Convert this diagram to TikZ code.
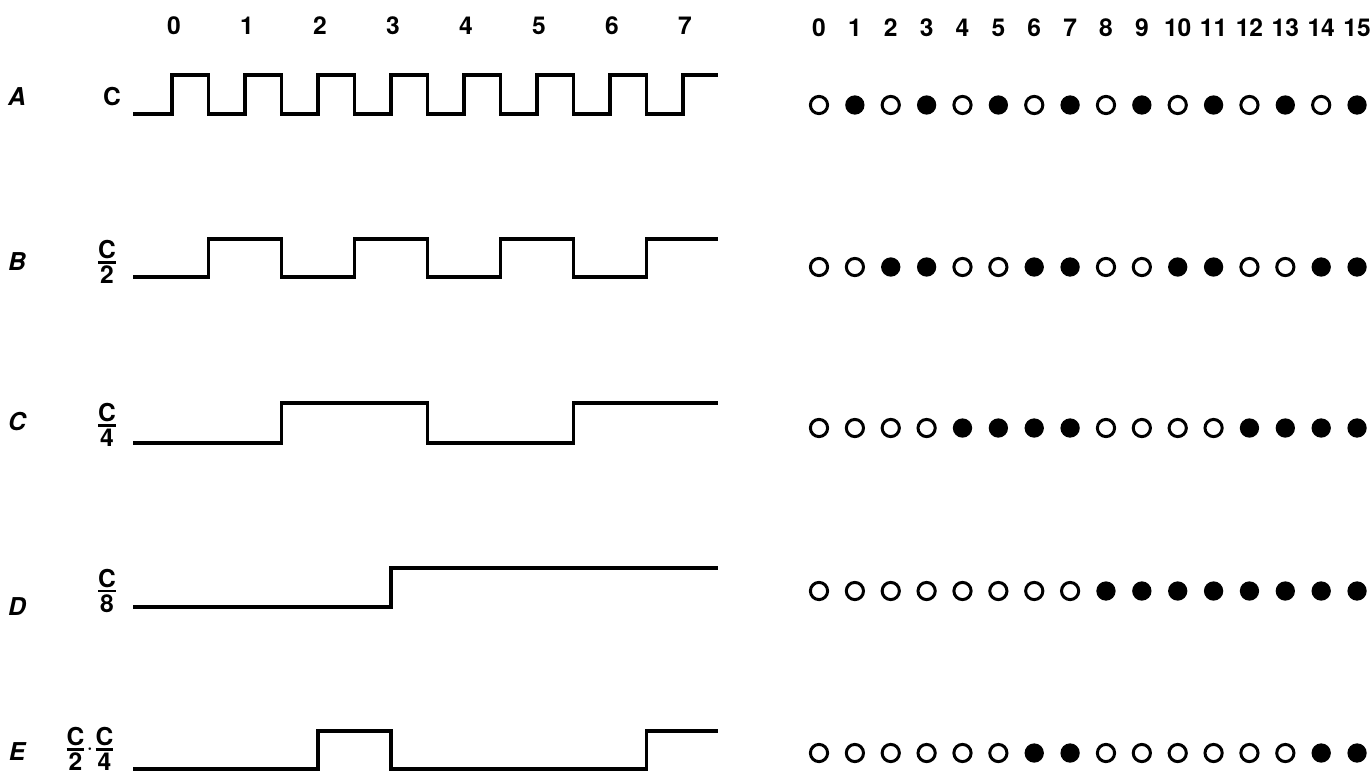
\documentclass[tikz,border=0pt]{standalone}
\usepackage{fontspec}
\setmainfont{TeX Gyre Heros}

\newcommand{\frc}[2]{${\mbox{#1}\above1.3pt\mbox{#2}}$}

\tikzset{
  lbl/.style ={font=\fontsize{14}{16}\selectfont\bfseries, inner sep=0pt},
  signame/.style={lbl, font=\fontsize{14}{16}\selectfont\bfseries\itshape},
  wave/.style={line width=2.2pt, line join=miter},
  bit0/.style={circle, draw=black, line width=1.7pt, minimum size=9.8pt, inner sep=0pt},
  bit1/.style={circle, fill=black, minimum size=11pt, inner sep=0pt},
}

\begin{document}
\begin{tikzpicture}[x=0.02cm, y=-0.02cm]
  \useasboundingbox (0,0) rectangle (1371,775);
  % time marks over the waveforms and the dot columns
  \foreach \k in {0,...,7}
    \node[lbl] (t\k) at ({174+73*\k}, 26) {\k};
  \foreach \k in {0,...,15}
    \node[lbl] (n\k) at ({819+35.87*\k}, 28) {\k};

  \node[signame] (rA) at (17, 97) {A};
  \node[signame] (rB) at (17, 262) {B};
  \node[signame] (rC) at (17, 422) {C};
  \node[signame] (rD) at (17, 607) {D};
  \node[signame] (rE) at (17, 752) {E};

  \node[lbl] (sA) at (112, 97) {C};
  \node[lbl] (sB) at (107, 262) {\frc{C}{2}};
  \node[lbl] (sC) at (107, 425) {\frc{C}{4}};
  \node[lbl] (sD) at (107, 591) {\frc{C}{8}};
  \node[lbl] (sE) at (90, 749) {\frc{C}{2}$\cdot$\frc{C}{4}};

  \draw[wave] (133,114) -| (172,75) -| (208.5,114) -| (245,75) -| (281.5,114)
    -| (318,75) -| (354.5,114) -| (391,75) -| (427.5,114) -| (464,75)
    -| (500.5,114) -| (537,75) -| (573.5,114) -| (610,75) -| (646.5,114)
    -| (683,75) -- (718,75);
  \draw[wave] (133,277) -| (208.5,239) -| (281.5,277) -| (354.5,239)
    -| (427.5,277) -| (500.5,239) -| (573.5,277) -| (646.5,239) -- (718,239);
  \draw[wave] (133,443) -| (281.5,403) -| (427.5,443) -| (573.5,403) -- (718,403);
  \draw[wave] (133,607) -| (391,568) -- (718,568);
  \draw[wave] (133,769) -| (318,731) -| (391,769) -| (646.5,731) -- (718,731);

  \foreach \b [count=\k from 0] in {0,1,0,1,0,1,0,1,0,1,0,1,0,1,0,1}
    \node[bit\b] (a\k) at ({819+35.87*\k}, 105) {};
  \foreach \b [count=\k from 0] in {0,0,1,1,0,0,1,1,0,0,1,1,0,0,1,1}
    \node[bit\b] (b\k) at ({819+35.87*\k}, 267) {};
  \foreach \b [count=\k from 0] in {0,0,0,0,1,1,1,1,0,0,0,0,1,1,1,1}
    \node[bit\b] (c\k) at ({819+35.87*\k}, 428) {};
  \foreach \b [count=\k from 0] in {0,0,0,0,0,0,0,0,1,1,1,1,1,1,1,1}
    \node[bit\b] (d\k) at ({819+35.87*\k}, 591) {};
  \foreach \b [count=\k from 0] in {0,0,0,0,0,0,1,1,0,0,0,0,0,0,1,1}
    \node[bit\b] (e\k) at ({819+35.87*\k}, 753) {};
\end{tikzpicture}
\end{document}
